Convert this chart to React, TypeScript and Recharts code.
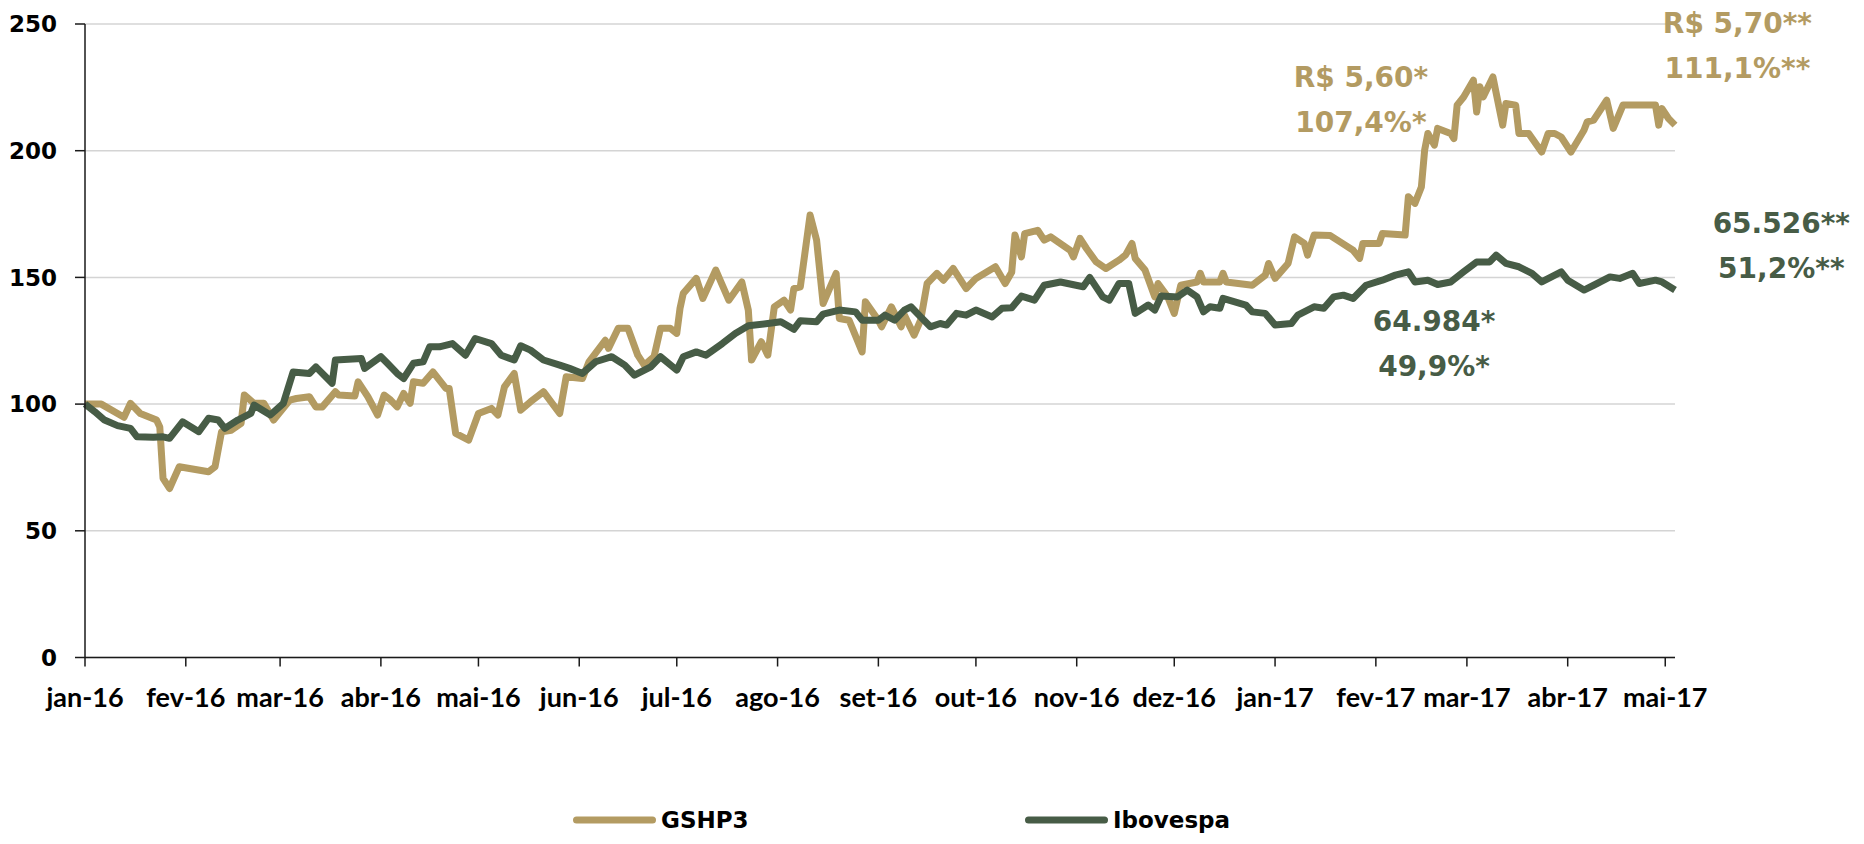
import { LineChart, Line, XAxis, YAxis, CartesianGrid, Legend, ReferenceDot } from 'recharts'

const GOLD = '#B39B62'
const GREEN = '#475C46'

// x values are days counted from 1 jan 2016
const monthTicks = [0, 31, 60, 91, 121, 152, 182, 213, 244, 274, 305, 335, 366, 397, 425, 456, 486]
const monthLabels = ['jan-16', 'fev-16', 'mar-16', 'abr-16', 'mai-16', 'jun-16', 'jul-16', 'ago-16', 'set-16', 'out-16', 'nov-16', 'dez-16', 'jan-17', 'fev-17', 'mar-17', 'abr-17', 'mai-17']
const yTicks = [0, 50, 100, 150, 200, 250]

const gshp3Days = [
  0, 5, 12, 14, 17, 22, 23, 24, 26, 29, 38, 40, 42, 45, 48, 49, 52, 55, 58, 63, 65, 69, 71, 73, 77, 78,
  83, 84, 87, 90, 92, 94, 96, 98, 100, 101, 104, 107, 111, 112, 114, 118, 121, 125, 127, 129, 132, 134,
  137, 141, 146, 148, 153, 155, 160, 161, 164, 167, 170, 172, 175, 177, 180, 182, 183, 184, 188, 190,
  194, 198, 202, 204, 205, 208, 210, 212, 215, 217, 218, 220, 223, 225, 227, 231, 232, 235, 239, 240,
  244, 245, 248, 251, 252, 255, 257, 259, 262, 264, 267, 271, 274, 280, 283, 285, 286, 288, 289, 293,
  295, 297, 303, 304, 306, 308, 311, 314, 318, 320, 322, 323, 326, 329, 330, 333, 335, 337, 342, 343,
  344, 349, 350, 351, 359, 363, 364, 366, 370, 372, 375, 376, 378, 383, 386, 390, 392, 393, 398, 399,
  406, 407, 409, 411, 412, 413, 415, 416, 420, 421, 422, 424, 427, 428, 429, 430, 433, 436, 437, 440,
  441, 444, 448, 450, 452, 454, 457, 461, 462, 464, 468, 470, 473, 483, 484, 485, 487, 489,
]
const gshp3Values = [
  100, 100, 94.8, 100.3, 96.3, 93.7, 91, 70.7, 66.7, 75.3, 73.3, 75.3, 89.1, 89.7, 92.4, 103.6, 100.3, 100.3, 93.7, 101.6, 102.2, 102.9, 98.9, 98.9, 104.9, 103.6,
  103.2, 108.8, 102.9, 95.7, 103.6, 101.6, 98.9, 104.2, 100.3, 108.8, 108.2, 112.7, 106.2, 106.2, 88.4, 85.8, 96.3, 98.3, 95.7, 106.8, 112.1, 97.6,
  100.9, 104.9, 96.3, 110.8, 110.1, 116.7, 125.2, 122, 129.9, 129.9, 119.3, 115.4, 118.7, 129.9, 129.9, 127.9, 137.8, 143.7, 149.6, 141.7,
  152.9, 141, 148.2, 137.1, 117.4, 124.6, 119.3, 138.4, 141, 137.1, 145.6, 146.3, 174.6, 164.7, 139.7, 151.6, 133.8, 133.1, 120.6, 140.4,
  133.1, 130.5, 138.4, 130.5, 135.1, 127.2, 133.1, 147.6, 151.6, 148.9, 153.5, 145.6, 149.6, 154.2, 147.6, 152, 166.7, 158.1, 167.3, 168.6,
  164.7, 166, 160.7, 158.1, 165.4, 161.4, 156.1, 153.5, 156.8, 158.8, 163.4, 157.5, 152.9, 142.3, 147.6, 142.3, 135.8, 146.9, 148.2, 151.6,
  148.2, 148.2, 151.6, 148.2, 146.9, 150.9, 155.5, 149.6, 155.5, 166, 163.4, 158.8, 166.7, 166.5, 164, 160.7, 157.5, 163.4, 163.4, 167.3,
  166.7, 181.8, 179.2, 185.7, 200.2, 206.8, 202.2, 208.8, 206.8, 204.8, 218, 221.2, 227.8, 215.3, 225.2, 221.2, 229.1, 210.1, 218.6, 218,
  206.8, 206.8, 199.5, 206.8, 206.8, 205.4, 199.5, 208.1, 211.4, 212.1, 219.9, 208.8, 218, 218, 210.1, 216.6, 212.7, 210.1,
]

const ibovDays = [
  0, 3, 6, 10, 14, 16, 21, 24, 26, 30, 35, 38, 41, 43, 47, 51, 52, 57, 61, 64, 69, 71, 76, 77, 85, 86,
  91, 93, 96, 98, 101, 104, 106, 109, 113, 117, 120, 125, 128, 132, 134, 137, 141, 146, 149, 153, 157, 162,
  166, 169, 174, 177, 182, 184, 188, 191, 196, 200, 204, 210, 214, 218, 220, 225, 227, 232, 237, 239, 244, 246,
  249, 252, 254, 257, 260, 263, 265, 268, 271, 274, 279, 282, 285, 288, 292, 295, 300, 307, 309, 313, 315, 318,
  321, 323, 327, 329, 331, 336, 339, 342, 344, 346, 349, 350, 357, 359, 363, 366, 371, 373, 378, 381, 384, 387,
  390, 394, 399, 403, 407, 409, 413, 416, 420, 424, 428, 432, 434, 437, 441, 445, 448, 451, 454, 456, 461, 464,
  469, 472, 476, 478, 483, 485, 489,
]
const ibovValues = [
  100, 97, 93.7, 91.5, 90.4, 87.1, 86.9, 87.1, 86.5, 93, 89.1, 94.4, 93.7, 90.4, 93.7, 96.3, 99.6, 95.7, 100.3, 112.7, 112.1, 114.7, 108.2, 117.4, 118, 114.1,
  118.7, 116.1, 112.1, 110.1, 116.1, 116.7, 122.6, 122.6, 123.9, 119.3, 125.9, 123.9, 119.3, 117.4, 123, 121.3, 117.4, 115.4, 114.1, 112.1, 116.7, 118.7,
  115.4, 111.4, 114.7, 118.7, 113.4, 118.7, 120.6, 119.3, 123.9, 127.9, 130.9, 131.8, 132.5, 129.5, 132.9, 132.5, 135.5, 137.1, 136.4, 133.1, 133.1, 135.1,
  133.1, 137.1, 138.4, 134.4, 130.5, 131.8, 131.2, 135.8, 135.1, 137.1, 134.4, 137.8, 138, 142.6, 141, 146.9, 148.2, 146.3, 150, 142.3, 141, 147.6,
  147.6, 135.8, 139.1, 137.1, 142.7, 142.3, 145, 142.3, 136.4, 138.4, 137.8, 141.7, 139.1, 136.4, 135.8, 131.2, 131.8, 135.1, 138.4, 137.8, 142.3, 143,
  141.7, 146.9, 148.9, 150.9, 152.2, 148.2, 148.9, 147.2, 148.2, 152.2, 156.1, 156.1, 158.8, 155.5, 154.2, 151.6, 148.2, 150.2, 152.2, 148.9, 145, 146.9,
  150.2, 149.6, 151.6, 147.6, 148.9, 148.2, 145,
]

const gshp3Data = gshp3Days.map((day, i) => ({ day, value: gshp3Values[i] }))
const ibovData = ibovDays.map((day, i) => ({ day, value: ibovValues[i] }))

// text callouts, anchored in data coordinates (first line baseline)
const callouts = [
  { day: 392.4, value: 225, lines: ['R$ 5,60*', '107,4%*'], color: GOLD },
  { day: 508.2, value: 246.4, lines: ['R$ 5,70**', '111,1%**'], color: GOLD },
  { day: 414.9, value: 128.8, lines: ['64.984*', '49,9%*'], color: GREEN },
  { day: 521.7, value: 167.5, lines: ['65.526**', '51,2%**'], color: GREEN },
]

const axisStroke = { stroke: '#1a1a1a', strokeWidth: 1.5 }

function renderLegend(props: any) {
  const items = props.payload || []
  return (
    <div style={{ height: 32, display: 'flex', paddingLeft: 565, fontFamily: 'DejaVu Sans', fontWeight: 700, fontSize: 23, color: '#000' }}>
      {items.map((it: any) => (
        <div key={it.value} style={{ width: 452, display: 'flex', alignItems: 'center', height: 32 }}>
          <svg width={86} height={32}>
            <line x1={3.5} y1={16} x2={79.5} y2={16} stroke={it.color} strokeWidth={7} strokeLinecap="round" />
          </svg>
          <span style={{ marginLeft: 2, lineHeight: '32px' }}>{it.value}</span>
        </div>
      ))}
    </div>
  )
}

function CalloutLabel({ viewBox, lines, color }: any) {
  const x = viewBox.x + (viewBox.width || 0) / 2
  const y = viewBox.y + (viewBox.height || 0) / 2
  return (
    <text x={x} y={y} textAnchor="middle" fill={color} fontFamily="DejaVu Sans" fontWeight={700} fontSize={28}>
      {lines.map((l: string, i: number) => (
        <tspan key={l} x={x} dy={i === 0 ? 0 : 45}>{l}</tspan>
      ))}
    </text>
  )
}

export default function App() {
  return (
    <LineChart width={1848} height={828} margin={{ top: 16, right: 181, bottom: 0, left: 0 }}>
      <CartesianGrid horizontal vertical={false} stroke="#d4d4d4" strokeWidth={1.5} />
      <XAxis
        type="number"
        dataKey="day"
        domain={[0, 489]}
        ticks={monthTicks}
        interval={0}
        tickFormatter={(v) => monthLabels[monthTicks.indexOf(v)]}
        height={146.5}
        axisLine={axisStroke}
        tickLine={axisStroke}
        tickSize={9}
        tickMargin={21}
        tick={{ fill: '#000', fontSize: 27, fontFamily: 'Lato', fontWeight: 700 }}
      />
      <YAxis
        type="number"
        domain={[0, 250]}
        ticks={yTicks}
        width={77}
        axisLine={axisStroke}
        tickLine={axisStroke}
        tickSize={10}
        tickMargin={18}
        tick={{ fill: '#000', fontSize: 23, fontFamily: 'DejaVu Sans', fontWeight: 700 }}
      />
      <Legend verticalAlign="bottom" wrapperStyle={{ left: 0, bottom: 0, width: 1848 }} content={renderLegend} />
      <Line data={gshp3Data} dataKey="value" name="GSHP3" stroke={GOLD} strokeWidth={7} strokeLinejoin="round" dot={false} activeDot={false} legendType="plainline" isAnimationActive={false} />
      <Line data={ibovData} dataKey="value" name="Ibovespa" stroke={GREEN} strokeWidth={7} strokeLinejoin="round" dot={false} activeDot={false} legendType="plainline" isAnimationActive={false} />
      {callouts.map((c) => (
        <ReferenceDot
          key={c.lines[0]}
          x={c.day}
          y={c.value}
          r={1}
          fill="none"
          stroke="none"
          ifOverflow="visible"
          label={(p: any) => <CalloutLabel {...p} lines={c.lines} color={c.color} />}
        />
      ))}
    </LineChart>
  )
}
